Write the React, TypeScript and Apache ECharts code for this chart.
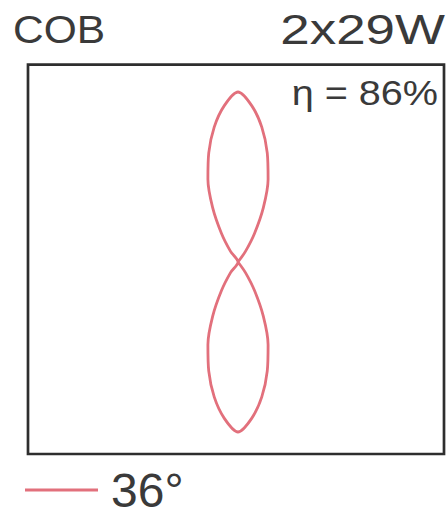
import React, { useEffect, useRef } from "react";
import * as echarts from "echarts";

// Photometric data (relative intensity)
const gammaAngles = [0, 5, 10, 15, 20, 25, 30, 35, 40]; // degrees from beam axis
const lowerLobe = [170, 157, 137, 113, 88, 60, 33, 13, 0]; // C0 direction (down)
const upperLobe = [170, 157, 137, 113, 88, 60, 33, 13, 0]; // C180 direction (up)
const seriesName = "36°";
const titleLeft = "COB";
const titleRight = "2x29W";
const efficiency = "η = 86%";

function buildLoop(): [number, number][] {
  const pts: [number, number][] = [];
  for (let i = gammaAngles.length - 1; i > 0; i--) {
    pts.push([lowerLobe[i], (360 - gammaAngles[i]) % 360]);
  }
  for (let i = 0; i < gammaAngles.length; i++) {
    pts.push([lowerLobe[i], gammaAngles[i]]);
  }
  for (let i = gammaAngles.length - 1; i > 0; i--) {
    pts.push([upperLobe[i], 180 - gammaAngles[i]]);
  }
  for (let i = 0; i < gammaAngles.length; i++) {
    pts.push([upperLobe[i], 180 + gammaAngles[i]]);
  }
  pts.push(pts[0]);
  return pts;
}

export default function App() {
  const ref = useRef<HTMLDivElement>(null);
  useEffect(() => {
    if (!ref.current) return;
    const chart = echarts.init(ref.current, null, { renderer: "svg" });
    const curveColor = "#e2707c";
    const textColor = "#3a3a3a";
    const font = "Liberation Sans, Arial, sans-serif";
    chart.setOption({
      animation: false,
      backgroundColor: "#ffffff",
      polar: { center: [238, 262], radius: 200 },
      angleAxis: {
        type: "value",
        min: 0,
        max: 360,
        startAngle: 270,
        clockwise: true,
        axisLine: { show: false },
        axisTick: { show: false },
        axisLabel: { show: false },
        splitLine: { show: false },
      },
      radiusAxis: {
        type: "value",
        min: 0,
        max: 200,
        axisLine: { show: false },
        axisTick: { show: false },
        axisLabel: { show: false },
        splitLine: { show: false },
      },
      legend: {
        left: 25,
        top: 466,
        padding: 0,
        icon: "rect",
        itemWidth: 73,
        itemHeight: 3,
        data: [seriesName],
        textStyle: {
          fontFamily: font,
          fontSize: 48,
          lineHeight: 44,
          color: textColor,
          padding: [3, 0, 0, 8],
        },
      },
      graphic: [
        {
          type: "rect",
          shape: { x: 28, y: 64.7, width: 416, height: 389.3 },
          style: { fill: "none", stroke: "#2e2e2e", lineWidth: 2.7 },
          silent: true,
        },
        {
          type: "text",
          x: 13,
          y: 10,
          scaleX: 1.09,
          style: {
            text: titleLeft,
            fontFamily: font,
            fontSize: 39,
            fill: textColor,
            textAlign: "left",
            textVerticalAlign: "top",
          },
        },
        {
          type: "text",
          x: 445,
          y: 8,
          scaleX: 1.26,
          style: {
            text: titleRight,
            fontFamily: font,
            fontSize: 42,
            fill: textColor,
            textAlign: "right",
            textVerticalAlign: "top",
          },
        },
        {
          type: "text",
          x: 438,
          y: 75,
          scaleX: 1.1,
          style: {
            text: efficiency,
            fontFamily: font,
            fontSize: 36,
            fill: textColor,
            textAlign: "right",
            textVerticalAlign: "top",
          },
        },
      ],
      series: [
        {
          name: seriesName,
          type: "line",
          coordinateSystem: "polar",
          data: buildLoop(),
          showSymbol: false,
          symbol: "none",
          smooth: 0.3,
          lineStyle: { color: curveColor, width: 2.8 },
          itemStyle: { color: curveColor },
        },
      ],
    });
    return () => chart.dispose();
  }, []);
  return (
    <div
      ref={ref}
      style={{ position: "fixed", left: 0, top: 0, width: 447, height: 515 }}
    />
  );
}
